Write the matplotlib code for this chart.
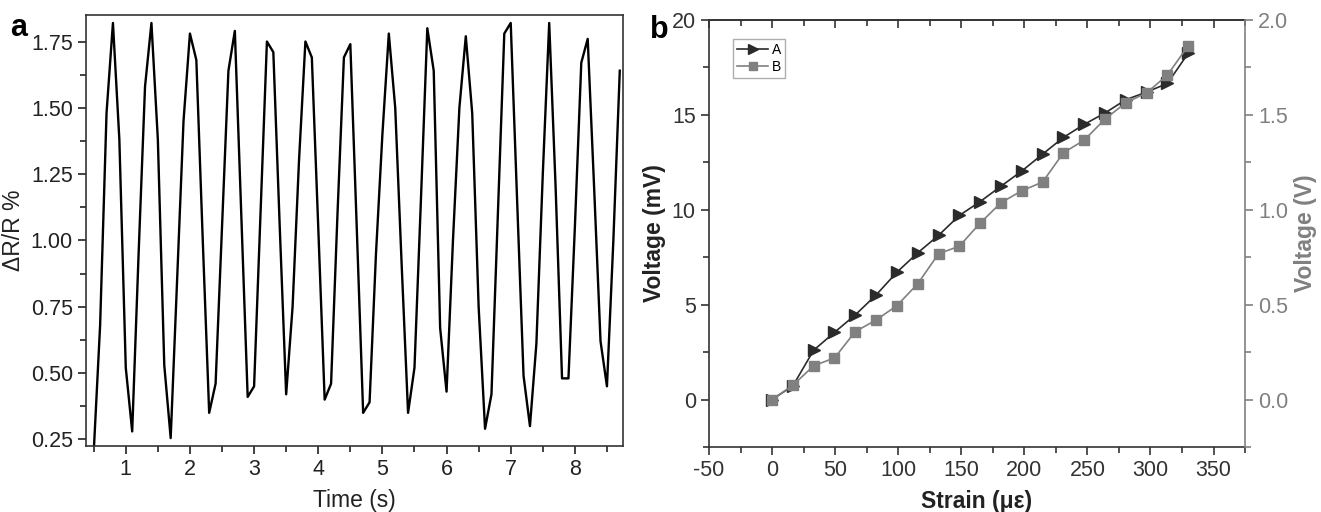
import numpy as np
import matplotlib.pyplot as plt
from matplotlib.ticker import MultipleLocator

plt.rcParams['font.family'] = ['Liberation Sans', 'DejaVu Sans']
plt.rcParams['axes.unicode_minus'] = False

# ==========================
# dados (a): resposta no tempo
# ==========================
time_s = [0.5, 0.6, 0.7, 0.8, 0.9, 1.0, 1.1, 1.2, 1.3, 1.4, 1.5, 1.6, 1.7, 1.8, 1.9,
          2.0, 2.1, 2.2, 2.3, 2.4, 2.5, 2.6, 2.7, 2.8, 2.9, 3.0, 3.1, 3.2, 3.3, 3.4,
          3.5, 3.6, 3.7, 3.8, 3.9, 4.0, 4.1, 4.2, 4.3, 4.4, 4.5, 4.6, 4.7, 4.8, 4.9,
          5.0, 5.1, 5.2, 5.3, 5.4, 5.5, 5.6, 5.7, 5.8, 5.9, 6.0, 6.1, 6.2, 6.3, 6.4,
          6.5, 6.6, 6.7, 6.8, 6.9, 7.0, 7.1, 7.2, 7.3, 7.4, 7.5, 7.6, 7.7, 7.8, 7.9,
          8.0, 8.1, 8.2, 8.3, 8.4, 8.5, 8.6, 8.7]
dr_r = [0.20, 0.68, 1.48, 1.82, 1.38, 0.52, 0.28, 0.95, 1.58, 1.82, 1.38, 0.53, 0.255, 0.85, 1.45,
        1.78, 1.68, 1.00, 0.35, 0.46, 1.05, 1.64, 1.79, 1.10, 0.41, 0.45, 1.10, 1.75, 1.71, 1.05,
        0.42, 0.75, 1.30, 1.75, 1.69, 1.05, 0.40, 0.46, 1.10, 1.69, 1.74, 1.05, 0.35, 0.39, 0.95,
        1.40, 1.78, 1.50, 0.91, 0.35, 0.52, 1.15, 1.80, 1.64, 0.67, 0.43, 1.00, 1.50, 1.77, 1.48,
        0.75, 0.29, 0.42, 1.10, 1.78, 1.82, 1.15, 0.49, 0.30, 0.61, 1.25, 1.82, 1.20, 0.48, 0.48,
        1.05, 1.67, 1.76, 1.20, 0.62, 0.45, 1.00, 1.64]

# ==========================
# dados (b): tensão x deformação
# ==========================
strain = [0, 16.5, 33, 49.5, 66, 82.5, 99, 115.5, 132, 148.5, 165, 181.5, 198, 214.5,
          231, 247.5, 264, 280.5, 297, 313.5, 330]
volt_a_mv = [0.0, 0.72, 2.6, 3.54, 4.46, 5.51, 6.71, 7.73, 8.65, 9.70, 10.43, 11.24, 12.04, 12.93,
             13.81, 14.5, 15.1, 15.8, 16.2, 16.66, 18.25]
volt_b_v = [0.0, 0.075, 0.178, 0.219, 0.358, 0.419, 0.495, 0.61, 0.768, 0.808, 0.93, 1.037, 1.10, 1.146,
            1.30, 1.367, 1.478, 1.564, 1.616, 1.71, 1.865]

# ==========================
# figura
# ==========================
fig = plt.figure(figsize=(13.21, 5.12), dpi=100)

gray = "#808080"
dark = "#2b2b2b"
fs = 15.5
fl = 16.5

# ---------- painel a ----------
ax1 = fig.add_axes([0.0651, 0.1289, 0.4065, 0.8418])
ax1.plot(time_s, dr_r, color="black", lw=1.7)
ax1.set_xlim(0.38, 8.75)
ax1.set_ylim(0.225, 1.85)
ax1.xaxis.set_major_locator(MultipleLocator(1))
ax1.xaxis.set_minor_locator(MultipleLocator(0.5))
ax1.yaxis.set_major_locator(MultipleLocator(0.25))
ax1.yaxis.set_minor_locator(MultipleLocator(0.125))
ax1.yaxis.set_major_formatter(plt.FormatStrFormatter("%.2f"))
ax1.tick_params(which="both", direction="out", labelsize=fs, width=1.2, colors="#222222")
ax1.tick_params(which="major", length=6)
ax1.tick_params(which="minor", length=4)
for s in ax1.spines.values():
    s.set_linewidth(1.2)
    s.set_color("#333333")
ax1.set_xlabel("Time (s)", fontsize=fl, color="#222222", labelpad=6)
ax1.set_ylabel("ΔR/R %", fontsize=fl, color="#222222")
fig.text(0.008, 0.93, "a", fontsize=22, fontweight="bold")

# ---------- painel b ----------
ax2 = fig.add_axes([0.5367, 0.127, 0.4058, 0.834])
ax3 = ax2.twinx()

la, = ax2.plot(strain, volt_a_mv, color=dark, lw=1.2, marker=">", ms=8.5, label="A")
lb, = ax3.plot(strain, volt_b_v, color=gray, lw=1.2, marker="s", ms=6.5, label="B")

ax2.set_xlim(-50, 375)
ax2.set_ylim(-2.5, 20)
ax3.set_ylim(-0.25, 2.0)

ax2.xaxis.set_major_locator(MultipleLocator(50))
ax2.xaxis.set_minor_locator(MultipleLocator(25))
ax2.yaxis.set_major_locator(MultipleLocator(5))
ax2.yaxis.set_minor_locator(MultipleLocator(2.5))
ax3.yaxis.set_major_locator(MultipleLocator(0.5))
ax3.yaxis.set_minor_locator(MultipleLocator(0.25))
ax3.yaxis.set_major_formatter(plt.FormatStrFormatter("%.1f"))

ax2.tick_params(which="both", direction="out", labelsize=fs, width=1.2, colors="#333333")
ax2.tick_params(which="major", length=6)
ax2.tick_params(which="minor", length=4)
ax3.tick_params(which="both", direction="out", labelsize=fs, width=1.2, colors=gray)
ax3.tick_params(which="major", length=6)
ax3.tick_params(which="minor", length=4)

top = ax2.secondary_xaxis("top")
top.xaxis.set_major_locator(MultipleLocator(50))
top.xaxis.set_minor_locator(MultipleLocator(25))
top.tick_params(which="both", direction="in", labeltop=False, width=1.2, colors="#333333")
top.tick_params(which="major", length=6)
top.tick_params(which="minor", length=4)

for s in ["left", "bottom", "top"]:
    ax2.spines[s].set_linewidth(1.2)
    ax2.spines[s].set_color("#333333")
top.spines["top"].set_linewidth(1.2)
top.spines["top"].set_color("#333333")
for s in ["left", "bottom", "top"]:
    ax3.spines[s].set_visible(False)
ax2.spines["right"].set_visible(False)
ax3.spines["right"].set_color(gray)
ax3.spines["right"].set_linewidth(1.2)

ax2.set_xlabel("Strain (με)", fontsize=fl, fontweight="bold", color="#222222", labelpad=6)
ax2.set_ylabel("Voltage (mV)", fontsize=fl, fontweight="bold", color="#222222")
ax3.set_ylabel("Voltage (V)", fontsize=fl, fontweight="bold", color=gray)

leg = ax2.legend(handles=[la, lb], loc="upper left", bbox_to_anchor=(0.045, 0.955),
                 fontsize=10, handlelength=2.2, markerscale=0.85, fancybox=False,
                 borderpad=0.3, labelspacing=0.2, handletextpad=0.3, borderaxespad=0)
leg.get_frame().set_edgecolor("#999999")
leg.get_frame().set_linewidth(1.0)

fig.text(0.492, 0.925, "b", fontsize=22, fontweight="bold")

plt.savefig("out.png", dpi=100)
plt.close()
